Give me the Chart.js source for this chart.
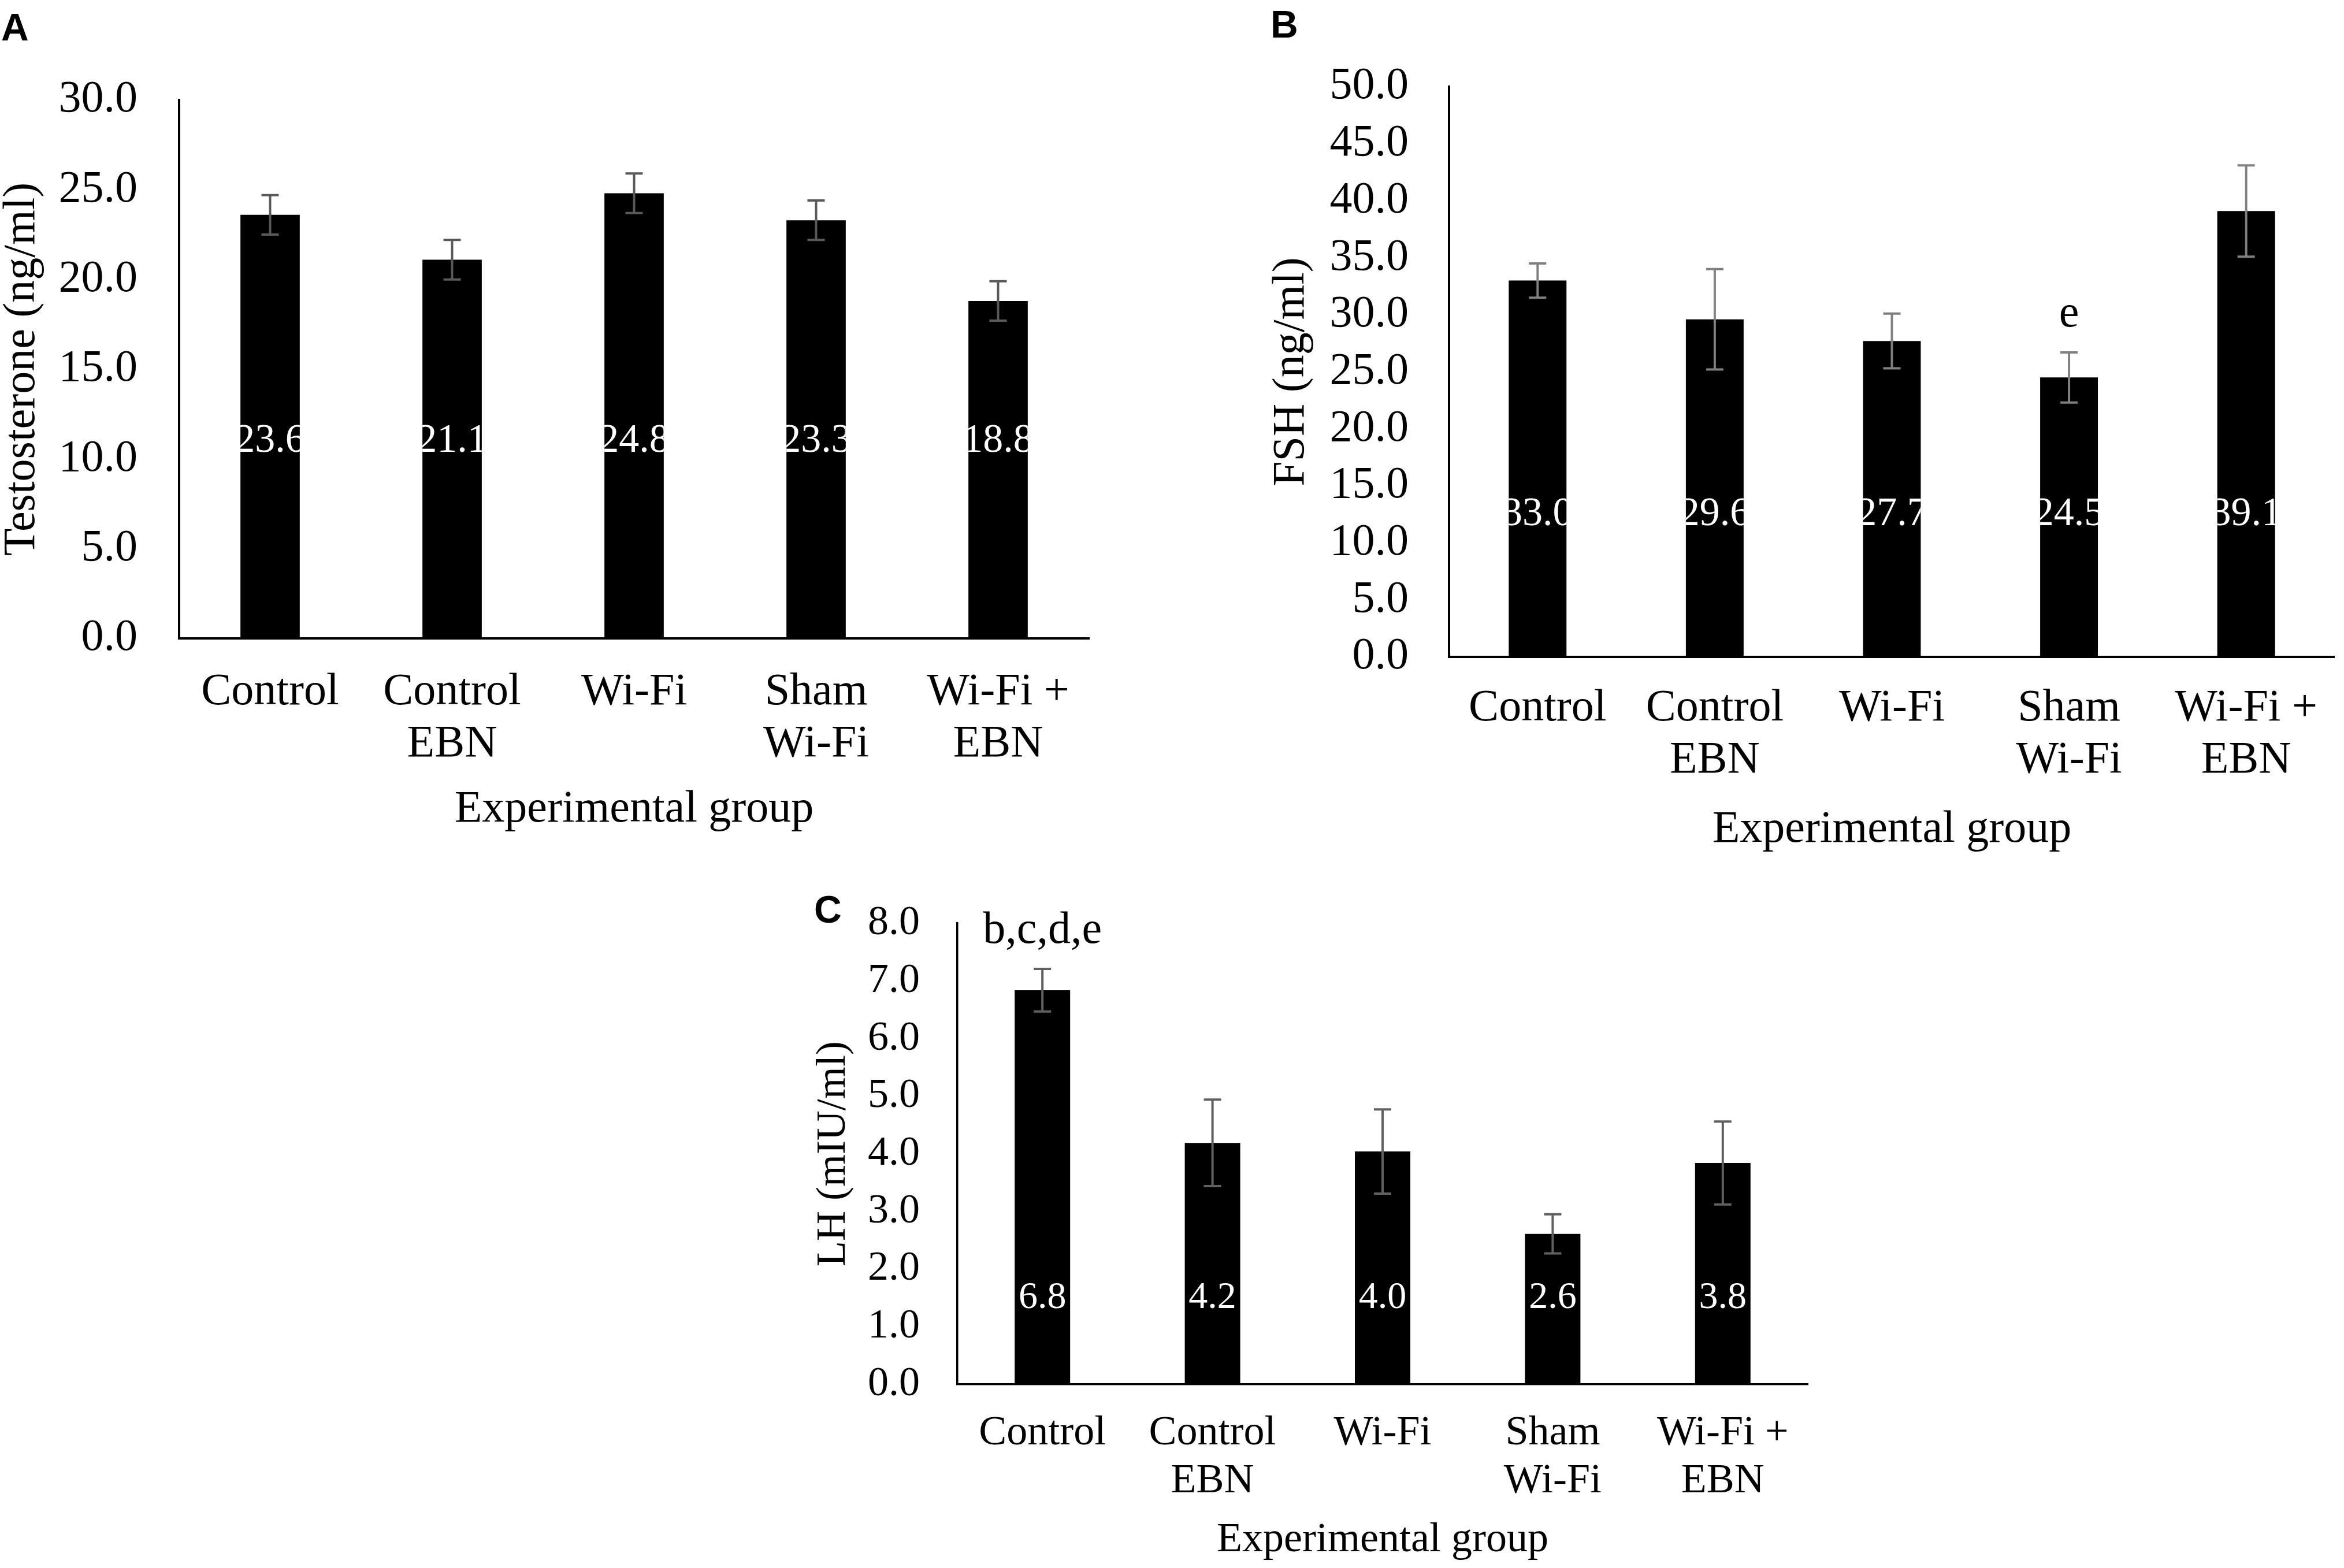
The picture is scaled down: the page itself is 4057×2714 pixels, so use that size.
<!DOCTYPE html>
<html>
<head>
<meta charset="utf-8">
<script src="https://cdn.jsdelivr.net/npm/chart.js@4.4.0/dist/chart.umd.min.js"></script>
<style>
html, body { margin:0; padding:0; background:#fff; width:4057px; height:2714px; overflow:hidden; }
body { position:relative; }
canvas { position:absolute; }
.panel { position:absolute; font-family:"Liberation Sans", Arial, sans-serif; font-weight:bold; font-size:66px; line-height:1; color:#000; }
</style>
</head>
<body>
<div class="panel" style="left:2px;top:14px">A</div>
<div class="panel" style="left:2199px;top:9px">B</div>
<div class="panel" style="left:1409px;top:1541px">C</div>
<canvas id="cA"></canvas>
<canvas id="cB"></canvas>
<canvas id="cC"></canvas>
<script>
// ---- data ----
const categories = [['Control'], ['Control', 'EBN'], ['Wi-Fi'], ['Sham', 'Wi-Fi'], ['Wi-Fi +', 'EBN']];
const xTitle = 'Experimental group';

const testosterone = [23.6, 21.1, 24.8, 23.3, 18.8];
const testosteroneErr = [1.1, 1.1, 1.1, 1.1, 1.1];
const testosteroneMarks = ['', '', '', '', ''];
const testosteroneAxis = { min: 0, max: 30, step: 5 };

const fsh = [33.0, 29.6, 27.7, 24.5, 39.1];
const fshErr = [1.5, 4.4, 2.4, 2.2, 4.0];
const fshMarks = ['', '', '', 'e', ''];
const fshAxis = { min: 0, max: 50, step: 5 };

const lh = [6.84, 4.19, 4.04, 2.61, 3.84];
const lhErr = [0.37, 0.75, 0.73, 0.34, 0.72];
const lhMarks = ['b,c,d,e', '', '', '', ''];
const lhAxis = { min: 0, max: 8, step: 1 };

const SERIF = '"Liberation Serif", "Times New Roman", serif';

const overlay = {
  id: 'overlay',
  afterDatasetsDraw(chart) {
    const ctx = chart.ctx;
    const ds = chart.data.datasets[0];
    const st = ds.ov;
    const ys = chart.scales.y;
    const meta = chart.getDatasetMeta(0);
    meta.data.forEach((bar, i) => {
      const v = ds.data[i];
      const x = bar.x;
      const w = bar.width;
      // value label (white, inside bar)
      ctx.save();
      ctx.beginPath();
      ctx.rect(x - w / 2, bar.y, w, bar.base - bar.y);
      ctx.clip();
      ctx.fillStyle = '#fff';
      ctx.font = st.labelSize + 'px ' + SERIF;
      ctx.textAlign = 'center';
      ctx.textBaseline = 'middle';
      ctx.fillText(v.toFixed(1), x, ys.getPixelForValue(st.labelAt));
      ctx.restore();
      // error bar
      const e = ds.errors[i];
      const yt = ys.getPixelForValue(v + e);
      const yb = ys.getPixelForValue(v - e);
      ctx.save();
      ctx.strokeStyle = st.errColor;
      ctx.lineWidth = 4;
      ctx.beginPath();
      ctx.moveTo(x, yt); ctx.lineTo(x, yb);
      ctx.moveTo(x - 15, yt); ctx.lineTo(x + 15, yt);
      ctx.moveTo(x - 15, yb); ctx.lineTo(x + 15, yb);
      ctx.stroke();
      ctx.restore();
      // significance mark
      const m = ds.marks[i];
      if (m) {
        ctx.save();
        ctx.fillStyle = '#000';
        ctx.font = '78px ' + SERIF;
        ctx.textAlign = 'center';
        ctx.textBaseline = 'alphabetic';
        ctx.fillText(m, x, yt - 45);
        ctx.restore();
      }
    });
  }
};

function makeChart(id, box, values, errors, marks, axis, yTitle, st) {
  const cv = document.getElementById(id);
  cv.width = box.w; cv.height = box.h;
  cv.style.left = box.left + 'px'; cv.style.top = box.top + 'px';
  cv.style.width = box.w + 'px'; cv.style.height = box.h + 'px';
  return new Chart(cv, {
    type: 'bar',
    data: {
      labels: categories,
      datasets: [{
        data: values,
        errors: errors,
        marks: marks,
        ov: st,
        backgroundColor: '#000',
        borderWidth: 0,
        barPercentage: 0.326,
        categoryPercentage: 1
      }]
    },
    options: {
      responsive: false,
      devicePixelRatio: 1,
      animation: false,
      layout: { padding: { left: 0, top: box.padTop, right: box.padRight, bottom: 0 } },
      plugins: { legend: { display: false }, tooltip: { enabled: false } },
      scales: {
        x: {
          grid: { display: false, drawTicks: false },
          border: { display: true, color: '#000', width: st.axisWidth },
          ticks: { color: '#000', font: { family: SERIF, size: st.font, lineHeight: 1.15 }, padding: st.xPad, maxRotation: 0, autoSkip: false },
          title: { display: true, text: xTitle, color: '#000', font: { family: SERIF, size: st.font, lineHeight: 1.2 }, padding: 0 },
          afterFit(s) { s.height = box.xh; }
        },
        y: {
          min: axis.min, max: axis.max,
          grid: { display: false, drawTicks: false },
          border: { display: true, color: '#000', width: st.axisWidth },
          ticks: { stepSize: axis.step, color: '#000', font: { family: SERIF, size: st.font, lineHeight: 1.2 }, padding: st.yPad, callback: v => Number(v).toFixed(1) },
          title: { display: true, text: yTitle, color: '#000', font: { family: SERIF, size: st.font, lineHeight: 1.0 }, padding: 0 },
          afterFit(s) { s.width = box.yw; }
        }
      }
    },
    plugins: [overlay]
  });
}

makeChart('cA', { left: 0, top: 0, w: 2000, h: 1448, padTop: 173, padRight: 115, yw: 310, xh: 343 },
  testosterone, testosteroneErr, testosteroneMarks, testosteroneAxis, 'Testosterone (ng/ml)',
  { font: 78, labelSize: 70, labelAt: 11.0, errColor: '#595959', axisWidth: 4, xPad: 49, yPad: 72 });

makeChart('cB', { left: 2197, top: 0, w: 1860, h: 1483, padTop: 150, padRight: 10, yw: 311, xh: 346 },
  fsh, fshErr, fshMarks, fshAxis, 'FSH (ng/ml)',
  { font: 78, labelSize: 70, labelAt: 12.5, errColor: '#808080', axisWidth: 4, xPad: 45, yPad: 70 });

makeChart('cC', { left: 1407, top: 1490, w: 1843, h: 1219, padTop: 100, padRight: 121, yw: 250, xh: 313 },
  lh, lhErr, lhMarks, lhAxis, 'LH (mIU/ml)',
  { font: 72, labelSize: 66, labelAt: 1.5, errColor: '#606060', axisWidth: 3.5, xPad: 44, yPad: 65 });
</script>
</body>
</html>
